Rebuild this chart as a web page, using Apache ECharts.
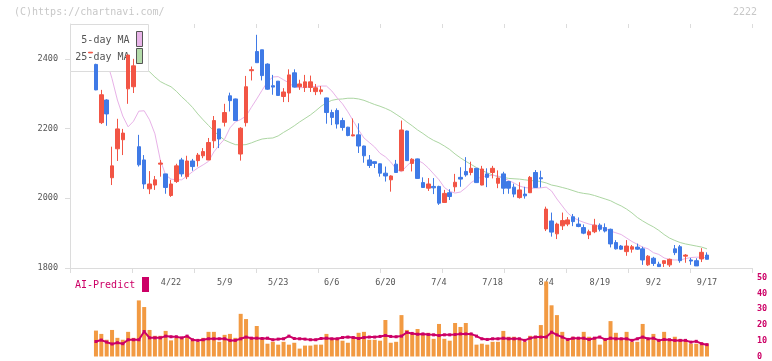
<!DOCTYPE html>
<html><head><meta charset="utf-8">
<script src="https://cdn.jsdelivr.net/npm/echarts@6/dist/echarts.min.js"></script>
<style>html,body{margin:0;padding:0;background:#fff}#c{width:772px;height:361px}</style>
</head><body><div id="c"></div>
<script>
const dates = ["4/1","4/2","4/3","4/4","4/7","4/8","4/9","4/10","4/11","4/14","4/15","4/16","4/17","4/18","4/21","4/22","4/23","4/24","4/25","4/28","4/30",
"5/1","5/2","5/7","5/8","5/9","5/12","5/13","5/14","5/15","5/16","5/19","5/20","5/21","5/22","5/23","5/26","5/27","5/28","5/29","5/30",
"6/2","6/3","6/4","6/5","6/6","6/9","6/10","6/11","6/12","6/13","6/16","6/17","6/18","6/19","6/20","6/23","6/24","6/25","6/26","6/27","6/30",
"7/1","7/2","7/3","7/4","7/7","7/8","7/9","7/10","7/11","7/14","7/15","7/16","7/17","7/18","7/22","7/23","7/24","7/25","7/28","7/29","7/30","7/31",
"8/1","8/4","8/5","8/6","8/7","8/8","8/12","8/13","8/14","8/15","8/18","8/19","8/20","8/21","8/22","8/25","8/26","8/27","8/28","8/29",
"9/1","9/2","9/3","9/4","9/5","9/8","9/9","9/10","9/11","9/12","9/16","9/17"];
const openP = [2417,2384,2217,2282,2059,2142,2168,2314,2320,2148,2110,2027,2038,2098,2070,2008,2048,2110,2062,2107,2108,2122,2110,2165,2199,2218,2294,2285,2127,2217,
2366,2421,2426,2385,2323,2336,2292,2302,2360,2320,2318,2318,2306,2306,2288,2246,2252,2223,2204,2179,2182,2150,2110,2105,2099,2072,2053,2098,2079,2193,
2100,2113,2045,2029,2034,2034,1988,2016,2033,2060,2077,2074,2086,2038,2070,2074,2043,2070,2048,2032,2002,2012,2016,2074,2059,1912,1935,1898,1921,1926,
1947,1926,1916,1895,1904,1923,1916,1911,1873,1863,1847,1854,1860,1855,1809,1828,1811,1813,1809,1855,1861,1834,1823,1821,1826,1837];
const closeP = [2419,2311,2297,2242,2093,2199,2187,2411,2380,2096,2041,2041,2053,2101,2031,2041,2093,2070,2107,2091,2124,2134,2160,2223,2170,2246,2280,2223,2201,2320,
2369,2389,2352,2313,2319,2295,2305,2354,2319,2328,2334,2334,2317,2311,2246,2232,2213,2203,2180,2182,2150,2122,2094,2100,2072,2064,2064,2074,2196,2108,
2112,2057,2031,2041,2030,1986,2014,2005,2046,2055,2067,2086,2045,2084,2060,2086,2058,2029,2029,2012,2024,2007,2060,2031,2056,1969,1903,1926,1936,1938,
1933,1919,1900,1904,1923,1911,1906,1869,1855,1854,1863,1861,1854,1823,1834,1813,1804,1821,1825,1844,1821,1837,1820,1806,1845,1825];
const lowP = [2417,2310,2213,2208,2038,2107,2124,2271,2302,2091,2027,2012,2024,2062,2013,2004,2044,2062,2055,2079,2091,2115,2110,2144,2144,2206,2249,2222,2108,2206,
2338,2389,2338,2311,2297,2295,2276,2276,2318,2311,2305,2305,2296,2298,2214,2210,2200,2194,2178,2178,2130,2102,2087,2087,2062,2048,2019,2073,2078,2107,
2077,2056,2030,2021,2012,1981,1987,1995,2019,2033,2062,2066,2044,2037,2032,2057,2029,2012,2013,2003,1999,1999,2015,2030,2031,1906,1890,1883,1909,1920,
1920,1917,1897,1883,1900,1905,1902,1859,1853,1852,1835,1844,1852,1809,1806,1806,1803,1803,1803,1837,1815,1815,1809,1806,1817,1825];
const highP = [2419,2386,2311,2284,2148,2228,2199,2411,2400,2182,2124,2078,2064,2110,2070,2053,2099,2116,2122,2113,2130,2144,2173,2236,2199,2271,2303,2286,2204,2351,
2378,2469,2426,2387,2354,2336,2316,2370,2370,2340,2354,2352,2328,2322,2289,2254,2258,2231,2205,2229,2215,2151,2124,2106,2100,2091,2066,2110,2223,2194,
2115,2114,2060,2058,2058,2036,2024,2026,2070,2089,2118,2105,2087,2093,2086,2093,2080,2076,2050,2042,2046,2033,2064,2081,2079,1976,1959,1930,1959,1946,
1955,1945,1925,1910,1941,1928,1928,1913,1880,1866,1880,1866,1870,1861,1837,1832,1818,1822,1827,1866,1866,1840,1829,1828,1857,1845];
const ma5 = [null,null,null,2395,2343,2282,2236,2205,2221,2250,2251,2225,2185,2110,2067,2055,2053,2053,2064,2076,2087,2096,2106,2133,2153,2170,2202,2219,2226,2236,
2261,2285,2310,2334,2348,2349,2340,2331,2319,2317,2318,2320,2321,2322,2322,2308,2288,2271,2248,2222,2196,2173,2160,2147,2129,2119,2104,2084,2076,2093,
2107,2109,2101,2087,2070,2053,2031,2020,2015,2018,2030,2045,2055,2062,2064,2066,2064,2058,2051,2044,2035,2031,2029,2029,2030,2032,2021,1998,1978,1958,
1945,1937,1931,1926,1923,1918,1913,1906,1901,1896,1886,1876,1868,1860,1855,1844,1839,1829,1824,1823,1823,1827,1830,1831,1831,1829];
const ma25 = [null,null,null,null,null,null,null,null,null,null,2374,2363,2348,2335,2327,2320,2307,2291,2277,2261,2242,2225,2209,2193,2179,2167,2160,2154,2153,2154,
2159,2165,2170,2172,2173,2179,2189,2198,2208,2219,2229,2239,2251,2264,2274,2281,2284,2285,2287,2287,2285,2281,2275,2269,2264,2258,2251,2241,2231,2219,
2208,2196,2186,2175,2166,2159,2150,2140,2127,2116,2106,2097,2088,2080,2073,2067,2062,2060,2057,2056,2055,2053,2051,2050,2048,2044,2038,2035,2031,2027,
2022,2017,2014,2012,2008,2003,1998,1993,1985,1978,1969,1958,1945,1935,1926,1918,1908,1896,1886,1879,1873,1869,1866,1863,1860,1855];
const volume = [null,16.4,14.3,10.6,16.8,11.8,10.6,15.6,11.8,35.5,31.3,16.8,13.1,13.1,16.2,10.2,11.8,11.8,13.1,10.2,9.3,11.8,15.6,15.6,9.3,13.7,14.3,11.8,27,23.7,
11.2,19.3,11.8,8.1,9.3,7.5,9.3,7.5,8.7,5.0,6.9,6.9,7.5,7.5,14.3,11.2,11.2,10,8.7,12.5,15,15.6,10.6,10.6,10,23.1,8.7,9.3,26.2,16.8,
14.3,17.4,13.7,15,11.2,20.6,11.2,10,21.2,18.7,21.2,13.7,7.5,8.1,7.5,9.3,9.3,16.2,12.5,12.5,10.6,9.3,13.1,13.1,19.9,47.5,32.4,26.2,15.6,10.6,
12.5,11.8,15.6,12.5,11.2,7.5,11,22.4,15,11.5,15.6,9.3,9.3,20.6,10.8,14.3,10,15.6,10,12.5,11,10,8.1,8.1,8.7,8.1];
const aiPredict = [null,9.5,10.4,9.1,7.9,8.7,8.1,10.6,10.6,10.6,15.8,11.8,11.8,11.8,12.9,12.5,12.5,11.8,12.9,10.6,10.2,10.6,11.2,11.2,11.2,11.2,10.2,10.2,11.2,12.3,
11.6,11.6,11.4,11.6,10.6,11,11.2,12.9,11.4,11.2,11,10.6,10.6,11.4,11.6,11.2,11.2,12,12.3,12,11.4,12,12.3,12.3,12.7,13.3,12.7,12.5,12.9,15.2,
14.6,14.1,14.3,13.9,13.7,13.3,13.7,13.7,13.9,14.3,14.3,14.3,12.9,11.2,10.8,11.2,11.2,11.6,11.2,11.2,11.2,10.2,11.6,12.3,12.3,12.3,15.4,13.7,12.3,10.8,
11.6,11.6,11.6,10.8,11.6,12.3,10.8,11.6,11.2,11.2,11.2,10.2,11.2,12.3,11.2,11.6,10.2,10.8,10.6,10.2,10.2,10.2,9.1,9.6,8.1,7.5];
const priceTicks = [1800,2000,2200,2400];
const volTicks = [0,10,20,30,40,50];
const firstLabel = 15, labelStep = 10;

const FONT = '"DejaVu Sans Mono", monospace';
const BAND = 5.36;
const N = dates.length;
const cLeft = 90.6 - BAND/2;
const cWidth = N*BAND;
const candles = dates.map((d,i)=>[openP[i],closeP[i],lowP[i],highP[i]]);
const AX = '#dcdcdc';
const chart = echarts.init(document.getElementById('c'), null, {renderer:'canvas'});
const option = {
  animation:false,
  backgroundColor:'#fff',
  grid:[
    {left:70, top:24, width:682, height:244},
    {left:cLeft, top:24, width:cWidth, height:244},
    {left:cLeft, top:277.5, width:cWidth, height:80}
  ],
  xAxis:[
    {gridIndex:0,type:'value',min:0,max:11,interval:1,axisLine:{lineStyle:{color:AX}},axisTick:{length:5,lineStyle:{color:AX}},axisLabel:{show:false},splitLine:{show:false}},
    {gridIndex:0,type:'value',min:0,max:11,interval:1,axisLine:{show:false},axisTick:{inside:true,length:4,lineStyle:{color:AX}},axisLabel:{show:false},splitLine:{show:false}},
    {gridIndex:1,type:'category',data:dates,boundaryGap:true,axisLine:{show:false},axisTick:{show:false},splitLine:{show:false},
      axisLabel:{interval:(i)=> i>=firstLabel && (i-firstLabel)%labelStep===0, color:'#555', fontFamily:FONT, fontSize:8.5, margin:10}},
    {gridIndex:2,type:'category',data:dates,boundaryGap:true,show:false}
  ],
  yAxis:[
    {gridIndex:0,type:'value',min:1800,max:2500,interval:200,axisLine:{show:true,lineStyle:{color:AX}},
      axisTick:{show:true,length:5,lineStyle:{color:AX},customValues:priceTicks},
      axisLabel:{color:'#555',fontFamily:FONT,fontSize:8.5,margin:12,customValues:priceTicks,formatter:(v)=>priceTicks.indexOf(v)>=0?String(v):''},
      splitLine:{show:false}},
    {gridIndex:0,type:'value',min:1800,max:2500,interval:200,axisLine:{show:false},
      axisTick:{show:true,inside:true,length:5,lineStyle:{color:AX},customValues:priceTicks},axisLabel:{show:false},splitLine:{show:false}},
    {gridIndex:1,type:'value',min:1800,max:2500,show:false,splitLine:{show:false}},
    {gridIndex:2,type:'value',min:0,max:50,interval:10,position:'right',offset:752-(cLeft+cWidth),
      axisLine:{show:false},axisTick:{show:false},splitLine:{show:false},
      axisLabel:{color:'#cc0066',fontFamily:FONT,fontSize:8.5,fontWeight:'bold',margin:5,customValues:volTicks}}
  ],
  series:[
    {name:'25-day MA',type:'line',xAxisIndex:2,yAxisIndex:2,data:ma25,showSymbol:false,lineStyle:{color:'#acd6a2',width:1},z:1,silent:true},
    {name:'5-day MA',type:'line',xAxisIndex:2,yAxisIndex:2,data:ma5,showSymbol:false,lineStyle:{color:'#e8b2e8',width:1},z:1,silent:true},
    {type:'candlestick',xAxisIndex:2,yAxisIndex:2,data:candles,barWidth:4,z:5,
      itemStyle:{color:'#f25545',color0:'#3f7ae6',borderColor:'#f25545',borderColor0:'#3f7ae6',borderWidth:1}},
    {type:'bar',xAxisIndex:3,yAxisIndex:3,data:volume,barWidth:4,itemStyle:{color:'#f29a42'},z:2},
    {name:'AI-Predict',type:'line',xAxisIndex:3,yAxisIndex:3,data:aiPredict,symbol:'rect',symbolSize:3,showSymbol:true,
      lineStyle:{color:'#cc0066',width:2},itemStyle:{color:'#cc0066'},z:4}
  ],
  graphic:{elements:[
    {type:'text',x:14,y:12.5,z:10,style:{text:'(C)https://chartnavi.com/',fill:'#c8c8c8',font:'10px '+FONT,verticalAlign:'middle'}},
    {type:'text',x:757,y:12.5,z:10,style:{text:'2222',fill:'#c8c8c8',font:'10px '+FONT,align:'right',verticalAlign:'middle'}},
    {type:'rect',z:3,shape:{x:70.5,y:24.5,width:78,height:47},style:{fill:'#fff',stroke:AX,lineWidth:1}},
    {type:'text',x:129.5,y:40,z:3,style:{text:'5-day MA',fill:'#555',font:'10px '+FONT,align:'right',verticalAlign:'middle'}},
    {type:'rect',z:3,shape:{x:136.5,y:31.5,width:6,height:15},style:{fill:'#e8b4e8',stroke:'#555',lineWidth:1}},
    {type:'text',x:129.5,y:57,z:3,style:{text:'25-day MA',fill:'#555',font:'10px '+FONT,align:'right',verticalAlign:'middle'}},
    {type:'rect',z:3,shape:{x:136.5,y:48.5,width:6,height:15},style:{fill:'#b4dcaa',stroke:'#555',lineWidth:1}},
    {type:'text',x:75,y:285,z:3,style:{text:'AI-Predict',fill:'#cc0066',font:'10px '+FONT,verticalAlign:'middle'}},
    {type:'rect',z:3,shape:{x:142,y:277,width:7,height:15},style:{fill:'#cc0066'}}
  ]}
};
chart.setOption(option);
</script>
</body></html>
